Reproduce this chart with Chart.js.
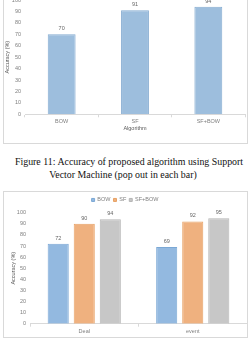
<!DOCTYPE html>
<html><head><meta charset="utf-8">
<script src="https://cdn.jsdelivr.net/npm/chart.js@4.4.1/dist/chart.umd.min.js"></script>
<style>
html,body{margin:0;padding:0;background:#fff;width:250px;height:341px;overflow:hidden;position:relative}
.frame{position:absolute;border:1px solid #d9d9d9;box-sizing:border-box}
#f1{left:3px;top:-20px;width:245px;height:164px}
#f2{left:3px;top:191px;width:245px;height:147px}
.cv{position:absolute}
#c1wrap{left:3px;top:-14px;width:245px;height:157px}
#c2wrap{left:3px;top:191px;width:245px;height:146px}
.cap{position:absolute;font-family:"Liberation Serif","DejaVu Serif",serif;font-size:9.9px;color:#111;white-space:nowrap;line-height:12px}
</style>
</head><body>
<div class="frame" id="f1"></div>
<div class="frame" id="f2"></div>
<div class="cv" id="c1wrap"><canvas id="c1" width="245" height="157"></canvas></div>
<div class="cv" id="c2wrap"><canvas id="c2" width="245" height="146"></canvas></div>
<div class="cap" id="cap1" style="left:0;width:258px;top:156px;text-align:center">Figure 11: Accuracy of proposed algorithm using Support</div>
<div class="cap" id="cap2" style="left:0;width:246px;top:169px;text-align:center">Vector Machine (pop out in each bar)</div>
<script>
// ---- data ----
const topCategories = ["BOW", "SF", "SF+BOW"];
const topValues = [70, 91, 94];
const bottomCategories = ["Deal", "event"];
const seriesNames = ["BOW", "SF", "SF+BOW"];
const bowValues = [72, 69];
const sfValues = [90, 92];
const sfBowValues = [94, 95];
const yTickMin = 0, yTickMax = 100, yTickStep = 10;
const yTitle = "Accuracy (%)";
const xTitleTop = "Algorithm";

const FONT = "'Liberation Sans', Arial, sans-serif";
const tickColor = "#7f7f7f";

const valueLabels = {
  id: 'valueLabels',
  afterDatasetsDraw(chart) {
    const ctx = chart.ctx;
    ctx.save();
    ctx.font = "5.5px " + FONT;
    ctx.fillStyle = "#666";
    ctx.textAlign = "center";
    ctx.textBaseline = "bottom";
    chart.data.datasets.forEach((ds, di) => {
      const meta = chart.getDatasetMeta(di);
      meta.data.forEach((bar, i) => {
        ctx.fillText(String(ds.data[i]), bar.x, bar.y - 3);
      });
    });
    ctx.restore();
  }
};

function yScale(width, titlePadTop, tickPad) {
  return {
    min: yTickMin, max: yTickMax,
    ticks: { stepSize: yTickStep, color: tickColor, font: { size: 5.5, family: FONT }, padding: tickPad },
    grid: { display: false, drawTicks: false },
    border: { display: false },
    title: { display: true, text: yTitle, color: "#595959", font: { size: 5.5, family: FONT }, padding: { top: titlePadTop, bottom: 0 } },
    afterFit(s) { s.width = width; }
  };
}

new Chart(document.getElementById('c1'), {
  type: 'bar',
  data: {
    labels: topCategories,
    datasets: [{
      label: "Accuracy",
      data: topValues,
      backgroundColor: "#9dbedd",
      borderColor: "#86acd1",
      borderWidth: 1,
      categoryPercentage: 0.76,
      barPercentage: 0.5
    }]
  },
  options: {
    responsive: false, animation: false,
    layout: { padding: { top: 14, right: 3, left: 0, bottom: 0 } },
    plugins: { legend: { display: false }, tooltip: { enabled: false } },
    scales: {
      x: {
        ticks: { color: tickColor, font: { size: 5.5, family: FONT }, padding: 1 },
        grid: { display: true, drawOnChartArea: false, drawTicks: true, tickLength: 3, color: "#d9d9d9" },
        border: { display: true, color: "#d9d9d9" },
        title: { display: true, text: xTitleTop, color: "#595959", font: { size: 5.5, family: FONT }, padding: { top: 0, bottom: 11 } },
        afterFit(s) { s.height = 28.7; }
      },
      y: yScale(22, 1, 4)
    }
  },
  plugins: [valueLabels]
});

new Chart(document.getElementById('c2'), {
  type: 'bar',
  data: {
    labels: bottomCategories,
    datasets: [
      { label: seriesNames[0], data: bowValues, backgroundColor: "#93b9e0", borderColor: "#7ba8d5", borderWidth: 1, categoryPercentage: 0.72, barPercentage: 0.81 },
      { label: seriesNames[1], data: sfValues, backgroundColor: "#efb17f", borderColor: "#e8a265", borderWidth: 1, categoryPercentage: 0.72, barPercentage: 0.81 },
      { label: seriesNames[2], data: sfBowValues, backgroundColor: "#c7c7c7", borderColor: "#b5b5b5", borderWidth: 1, categoryPercentage: 0.72, barPercentage: 0.81 }
    ]
  },
  options: {
    responsive: false, animation: false,
    layout: { padding: { top: 3.2, right: 1, left: 0, bottom: 0 } },
    plugins: {
      legend: {
        display: true, position: 'top',
        labels: { boxWidth: 3, boxHeight: 3, padding: 3, color: tickColor, font: { size: 5.5, family: FONT } }
      },
      tooltip: { enabled: false }
    },
    scales: {
      x: {
        ticks: { color: tickColor, font: { size: 5.5, family: FONT }, padding: 1 },
        grid: { display: true, drawOnChartArea: false, drawTicks: true, tickLength: 3, color: "#d9d9d9" },
        border: { display: true, color: "#d9d9d9" },
        afterFit(s) { s.height = 13.3; }
      },
      y: yScale(27, 6.7, 4)
    }
  },
  plugins: [valueLabels]
});
</script>
</body></html>
